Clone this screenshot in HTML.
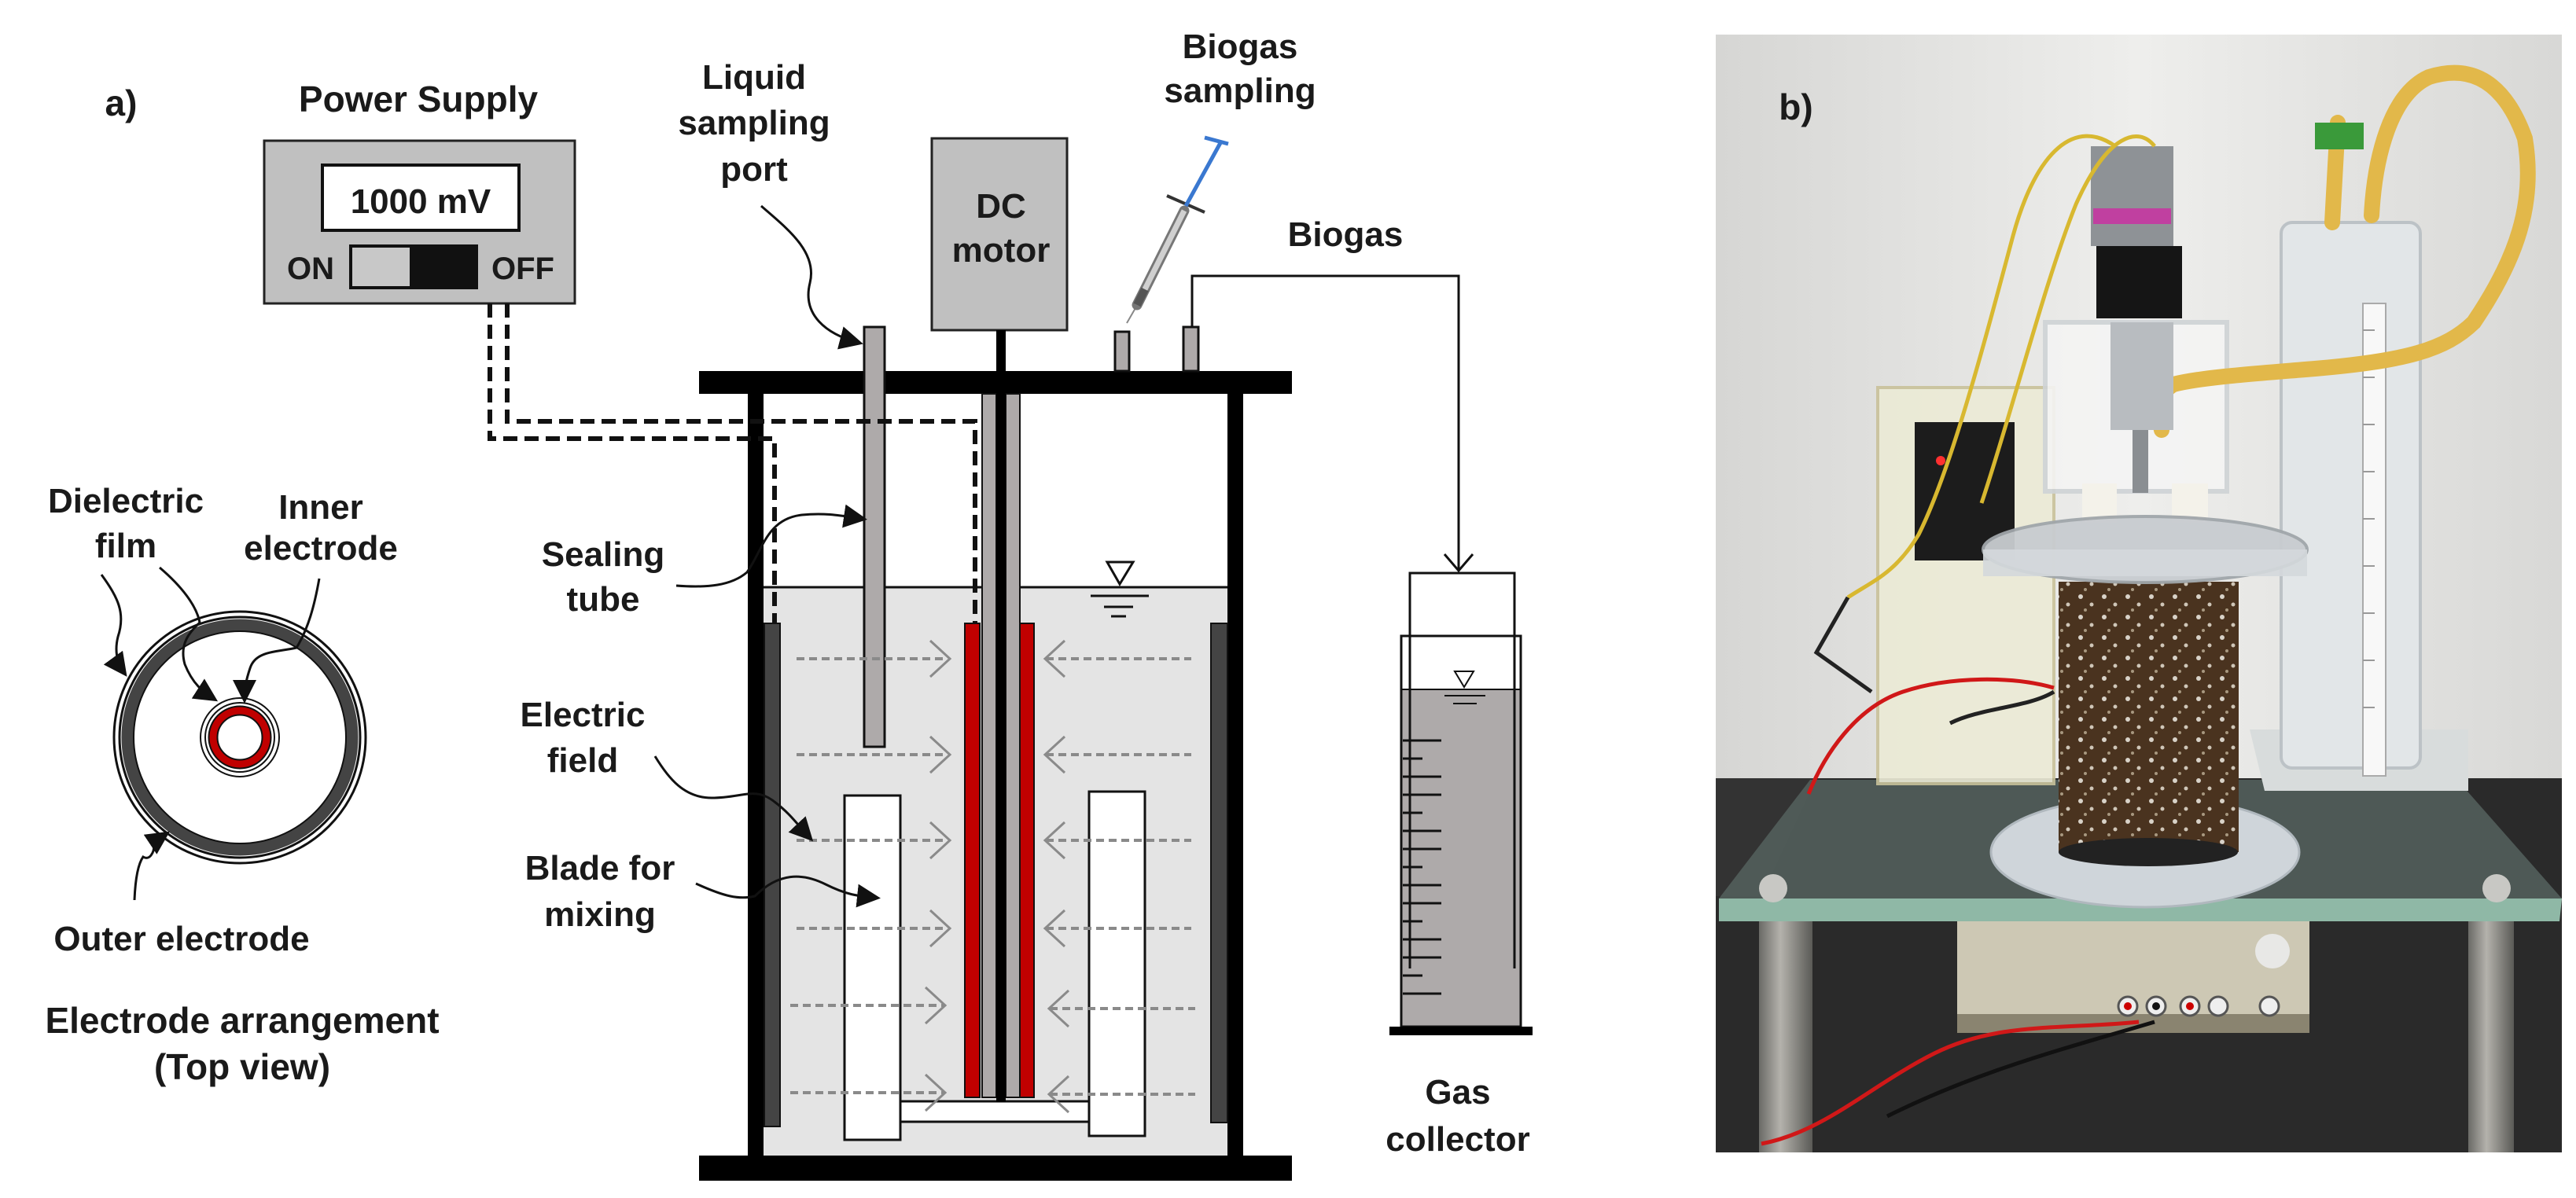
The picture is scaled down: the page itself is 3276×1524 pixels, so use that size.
<!DOCTYPE html>
<html><head><meta charset="utf-8"><style>
html,body{margin:0;padding:0;background:#fff}
svg{display:block}
text{font-family:"Liberation Sans",sans-serif;font-weight:bold;fill:#1a1a1a;text-anchor:middle}
</style></head><body>
<svg width="3276" height="1524" viewBox="0 0 3276 1524" xmlns="http://www.w3.org/2000/svg">
<defs>
<marker id="ah" markerWidth="10" markerHeight="10" refX="8" refY="5" orient="auto" markerUnits="strokeWidth">
<path d="M0,0 L10,5 L0,10 z" fill="#111"/></marker>
<linearGradient id="wall" x1="0" y1="0" x2="1" y2="0"><stop offset="0" stop-color="#d6d6d4"/><stop offset="0.5" stop-color="#eeeeec"/><stop offset="1" stop-color="#d8d8d6"/></linearGradient>
<linearGradient id="leg" x1="0" y1="0" x2="1" y2="0"><stop offset="0" stop-color="#6a6a66"/><stop offset="0.4" stop-color="#b4b2ac"/><stop offset="1" stop-color="#5a5a56"/></linearGradient>
<pattern id="bub" width="30" height="26" patternUnits="userSpaceOnUse"><rect width="30" height="26" fill="#4a331f"/><circle cx="6" cy="5" r="3" fill="#d8d2c8"/><circle cx="20" cy="15" r="2.5" fill="#cfc6b8"/><circle cx="12" cy="22" r="2" fill="#a89880"/></pattern>
</defs>

<!-- ===== Left: electrode top view ===== -->
<circle cx="305" cy="938" r="160" fill="#fff" stroke="#111" stroke-width="3"/>
<circle cx="305" cy="938" r="153" fill="none" stroke="#111" stroke-width="3"/>
<circle cx="305" cy="938" r="143" fill="none" stroke="#444" stroke-width="15"/>
<circle cx="305" cy="938" r="135" fill="#fff" stroke="#111" stroke-width="2"/>
<circle cx="305" cy="938" r="50" fill="#fff" stroke="#111" stroke-width="2"/>
<circle cx="305" cy="938" r="44" fill="#fff" stroke="#111" stroke-width="2"/>
<circle cx="305" cy="938" r="34" fill="none" stroke="#111" stroke-width="13"/>
<circle cx="305" cy="938" r="34" fill="none" stroke="#c00000" stroke-width="9"/>
<g fill="none" stroke="#111" stroke-width="3">
<path d="M129,731 C150,760 160,780 150,810 C145,830 150,845 158,856" marker-end="url(#ah)"/>
<path d="M203,722 C230,745 250,770 254,792 C240,805 228,820 235,845 C245,870 258,880 272,889" marker-end="url(#ah)"/>
<path d="M406,736 C400,770 392,800 377,824 C350,830 325,828 318,850 C313,865 311,875 311,889" marker-end="url(#ah)"/>
<path d="M171,1145 C172,1120 175,1100 182,1090 C190,1095 196,1085 196,1075 C200,1068 205,1065 211,1061" marker-end="url(#ah)"/>
</g>
<text x="160" y="652" font-size="44">Dielectric</text>
<text x="160" y="709" font-size="44">film</text>
<text x="408" y="660" font-size="44">Inner</text>
<text x="408" y="712" font-size="44">electrode</text>
<text x="231" y="1209" font-size="44">Outer electrode</text>
<text x="308" y="1314" font-size="46">Electrode arrangement</text>
<text x="308" y="1373" font-size="46">(Top view)</text>

<!-- ===== Power supply ===== -->
<text x="154" y="147" font-size="46">a)</text>
<text x="532" y="142" font-size="46">Power Supply</text>
<rect x="336" y="179" width="395" height="207" fill="#c0c0c0" stroke="#222" stroke-width="3"/>
<rect x="410" y="210" width="250" height="83" fill="#fff" stroke="#111" stroke-width="4"/>
<text x="535" y="271" font-size="44">1000 mV</text>
<rect x="446" y="313" width="77" height="53" fill="#c8c8c8" stroke="#111" stroke-width="4"/>
<rect x="523" y="313" width="83" height="53" fill="#111" stroke="#111" stroke-width="4"/>
<text x="395" y="355" font-size="40">ON</text>
<text x="665" y="355" font-size="40">OFF</text>

<!-- ===== Reactor ===== -->
<rect x="971" y="747" width="590" height="723" fill="#e4e4e4"/>
<line x1="971" y1="747" x2="1561" y2="747" stroke="#111" stroke-width="3"/>
<rect x="889" y="472" width="754" height="29" fill="#000"/>
<rect x="889" y="1470" width="754" height="32" fill="#000"/>
<rect x="951" y="501" width="20" height="969" fill="#000"/>
<rect x="1561" y="501" width="20" height="969" fill="#000"/>
<!-- motor -->
<rect x="1185" y="176" width="172" height="244" fill="#c0c0c0" stroke="#222" stroke-width="3"/>
<text x="1273" y="277" font-size="44">DC</text>
<text x="1273" y="333" font-size="44">motor</text>
<!-- ports -->
<rect x="1099" y="416" width="26" height="534" fill="#aeaaaa" stroke="#111" stroke-width="3"/>
<rect x="1418" y="422" width="18" height="50" fill="#aeaaaa" stroke="#111" stroke-width="3"/>
<rect x="1505" y="416" width="19" height="56" fill="#aeaaaa" stroke="#111" stroke-width="3"/>
<!-- outer electrodes -->
<rect x="972" y="793" width="20" height="640" fill="#444" stroke="#111" stroke-width="2"/>
<rect x="1540" y="793" width="21" height="635" fill="#444" stroke="#111" stroke-width="2"/>
<!-- blades -->
<rect x="1074" y="1012" width="71" height="438" fill="#fff" stroke="#111" stroke-width="3"/>
<rect x="1385" y="1007" width="71" height="438" fill="#fff" stroke="#111" stroke-width="3"/>
<rect x="1145" y="1401" width="240" height="26" fill="#fff" stroke="#111" stroke-width="3"/>
<!-- central electrode assembly -->
<rect x="1227" y="793" width="19" height="603" fill="#c00000" stroke="#111" stroke-width="2"/>
<rect x="1297" y="793" width="18" height="603" fill="#c00000" stroke="#111" stroke-width="2"/>
<rect x="1249" y="501" width="18" height="895" fill="#aeaaaa" stroke="#111" stroke-width="2"/>
<rect x="1279" y="501" width="18" height="895" fill="#aeaaaa" stroke="#111" stroke-width="2"/>
<rect x="1267" y="420" width="12" height="982" fill="#000"/>
<!-- water level -->
<polygon points="1408,715 1441,715 1424,743" fill="#fff" stroke="#111" stroke-width="3"/>
<g stroke="#111" stroke-width="3"><line x1="1387" y1="758" x2="1461" y2="758"/><line x1="1404" y1="772" x2="1441" y2="772"/><line x1="1413" y1="784" x2="1432" y2="784"/></g>
<!-- field arrows -->
<g fill="none" stroke="#8a8a8a" stroke-width="4">
<g stroke-dasharray="10 6">
<line x1="1013" y1="838" x2="1205" y2="838"/><line x1="1330" y1="838" x2="1515" y2="838"/>
<line x1="1013" y1="960" x2="1205" y2="960"/><line x1="1330" y1="960" x2="1515" y2="960"/>
<line x1="1013" y1="1069" x2="1205" y2="1069"/><line x1="1330" y1="1069" x2="1515" y2="1069"/>
<line x1="1013" y1="1181" x2="1205" y2="1181"/><line x1="1330" y1="1181" x2="1515" y2="1181"/>
<line x1="1005" y1="1279" x2="1200" y2="1279"/><line x1="1335" y1="1283" x2="1520" y2="1283"/>
<line x1="1005" y1="1390" x2="1200" y2="1390"/><line x1="1335" y1="1392" x2="1520" y2="1392"/>
</g>
<g stroke-width="3">
<path d="M1183,815 L1208,838 L1183,861"/><path d="M1354,815 L1329,838 L1354,861"/>
<path d="M1183,937 L1208,960 L1183,983"/><path d="M1354,937 L1329,960 L1354,983"/>
<path d="M1183,1046 L1208,1069 L1183,1092"/><path d="M1354,1046 L1329,1069 L1354,1092"/>
<path d="M1183,1158 L1208,1181 L1183,1204"/><path d="M1354,1158 L1329,1181 L1354,1204"/>
<path d="M1177,1256 L1202,1279 L1177,1302"/><path d="M1359,1260 L1334,1283 L1359,1306"/>
<path d="M1177,1367 L1202,1390 L1177,1413"/><path d="M1359,1369 L1334,1392 L1359,1415"/>
</g></g>
<!-- dashed wires -->
<g fill="none" stroke="#111" stroke-width="6" stroke-dasharray="18 9">
<path d="M645,386 L645,536 L1240,536 L1240,793"/>
<path d="M623,386 L623,558 L985,558 L985,793"/>
</g>
<!-- label arrows -->
<g fill="none" stroke="#111" stroke-width="3">
<path d="M968,262 C1000,290 1040,320 1030,360 C1020,400 1050,425 1092,436" marker-end="url(#ah)"/>
<path d="M860,745 C900,748 930,745 950,728 C970,700 975,660 1020,655 C1050,652 1070,656 1097,660" marker-end="url(#ah)"/>
<path d="M833,962 C850,990 870,1015 905,1015 C945,1015 960,1000 985,1020 C1005,1035 1015,1050 1030,1066" marker-end="url(#ah)"/>
<path d="M885,1124 C920,1140 940,1145 960,1140 C990,1110 1020,1110 1050,1125 C1080,1140 1095,1140 1114,1142" marker-end="url(#ah)"/>
</g>
<text x="959" y="113" font-size="44">Liquid</text>
<text x="959" y="171" font-size="44">sampling</text>
<text x="959" y="230" font-size="44">port</text>
<text x="767" y="720" font-size="44">Sealing</text>
<text x="767" y="777" font-size="44">tube</text>
<text x="741" y="924" font-size="44">Electric</text>
<text x="741" y="982" font-size="44">field</text>
<text x="763" y="1119" font-size="44">Blade for</text>
<text x="763" y="1178" font-size="44">mixing</text>
<!-- syringe -->
<line x1="1433" y1="411" x2="1448" y2="385" stroke="#888" stroke-width="2"/>
<line x1="1446" y1="388" x2="1506" y2="268" stroke="#777" stroke-width="13" stroke-linecap="round"/>
<line x1="1446" y1="388" x2="1506" y2="268" stroke="#d0d0d0" stroke-width="7"/>
<line x1="1446" y1="388" x2="1456" y2="368" stroke="#555" stroke-width="10"/>
<line x1="1484" y1="249" x2="1532" y2="270" stroke="#333" stroke-width="4"/>
<line x1="1508" y1="262" x2="1553" y2="180" stroke="#3a78d0" stroke-width="5"/>
<line x1="1532" y1="175" x2="1562" y2="183" stroke="#3a78d0" stroke-width="5"/>
<text x="1577" y="74" font-size="44">Biogas</text>
<text x="1577" y="130" font-size="44">sampling</text>
<!-- biogas line -->
<path d="M1516,416 L1516,351 L1855,351 L1855,726" fill="none" stroke="#111" stroke-width="3"/>
<path d="M1837,705 L1855,726 L1873,705" fill="none" stroke="#111" stroke-width="3"/>
<text x="1711" y="313" font-size="44">Biogas</text>
<!-- gas collector -->
<rect x="1782" y="877" width="152" height="429" fill="#aeaaaa"/>
<rect x="1782" y="809" width="152" height="497" fill="none" stroke="#111" stroke-width="3"/>
<path d="M1793,1232 L1793,729 L1926,729 L1926,1232" fill="none" stroke="#111" stroke-width="3"/>
<line x1="1782" y1="877" x2="1934" y2="877" stroke="#111" stroke-width="2"/>
<rect x="1767" y="1306" width="182" height="11" fill="#000"/>
<polygon points="1850,854 1874,854 1862,874" fill="#fff" stroke="#111" stroke-width="2"/>
<g stroke="#111" stroke-width="2"><line x1="1837" y1="885" x2="1889" y2="885"/><line x1="1848" y1="895" x2="1878" y2="895"/></g>
<g stroke="#111" stroke-width="3">
<line x1="1784" y1="942" x2="1833" y2="942"/><line x1="1784" y1="965" x2="1809" y2="965"/>
<line x1="1784" y1="988" x2="1833" y2="988"/><line x1="1784" y1="1011" x2="1833" y2="1011"/>
<line x1="1784" y1="1034" x2="1809" y2="1034"/><line x1="1784" y1="1057" x2="1833" y2="1057"/>
<line x1="1784" y1="1080" x2="1833" y2="1080"/><line x1="1784" y1="1103" x2="1809" y2="1103"/>
<line x1="1784" y1="1126" x2="1833" y2="1126"/><line x1="1784" y1="1149" x2="1833" y2="1149"/>
<line x1="1784" y1="1172" x2="1809" y2="1172"/><line x1="1784" y1="1195" x2="1833" y2="1195"/>
<line x1="1784" y1="1218" x2="1833" y2="1218"/><line x1="1784" y1="1241" x2="1809" y2="1241"/>
<line x1="1784" y1="1264" x2="1833" y2="1264"/>
</g>
<text x="1854" y="1404" font-size="44">Gas</text>
<text x="1854" y="1464" font-size="44">collector</text>

<!-- ===== Photo b) ===== -->
<g>
<rect x="2182" y="44" width="1076" height="1422" fill="url(#wall)"/>
<rect x="2182" y="990" width="1076" height="476" fill="#2a2a2a"/>
<polygon points="2182,990 2310,990 2240,1140 2182,1140" fill="#333"/>
<!-- legs -->
<rect x="2237" y="1160" width="68" height="306" fill="url(#leg)"/>
<rect x="3139" y="1160" width="58" height="306" fill="url(#leg)"/>
<!-- power supply unit under -->
<rect x="2489" y="1168" width="448" height="146" fill="#cdc8b4"/>
<rect x="2489" y="1290" width="448" height="24" fill="#8a8470"/>
<g fill="#eee" stroke="#555" stroke-width="3">
<circle cx="2706" cy="1280" r="12"/><circle cx="2742" cy="1280" r="12"/><circle cx="2785" cy="1280" r="12"/><circle cx="2821" cy="1280" r="12"/><circle cx="2886" cy="1280" r="12"/></g>
<circle cx="2706" cy="1280" r="5" fill="#c00"/><circle cx="2785" cy="1280" r="5" fill="#c00"/><circle cx="2742" cy="1280" r="5" fill="#111"/>
<circle cx="2890" cy="1210" r="22" fill="#e8e8e6"/>
<!-- glass plate -->
<polygon points="2302,992 3125,992 3258,1143 2186,1143" fill="#55625e" opacity="0.85"/>
<polygon points="2186,1143 3258,1143 3255,1172 2186,1172" fill="#8fb8a6"/>
<circle cx="2255" cy="1130" r="18" fill="#c8c8c4"/><circle cx="3175" cy="1130" r="18" fill="#c8c8c4"/>
<!-- right stand plate & cylinder -->
<polygon points="2861,928 3139,928 3139,1006 2880,1006" fill="#d8dcdc"/>
<rect x="2901" y="283" width="177" height="694" rx="14" fill="#e2e6e8" stroke="#bcc2c6" stroke-width="4"/>
<rect x="3005" y="386" width="29" height="601" fill="#f8f8f8" stroke="#aaa" stroke-width="2"/>
<g stroke="#999" stroke-width="2"><line x1="3005" y1="420" x2="3020" y2="420"/><line x1="3005" y1="480" x2="3020" y2="480"/><line x1="3005" y1="540" x2="3020" y2="540"/><line x1="3005" y1="600" x2="3020" y2="600"/><line x1="3005" y1="660" x2="3020" y2="660"/><line x1="3005" y1="720" x2="3020" y2="720"/><line x1="3005" y1="780" x2="3020" y2="780"/><line x1="3005" y1="840" x2="3020" y2="840"/><line x1="3005" y1="900" x2="3020" y2="900"/></g>
<!-- controller box -->
<rect x="2388" y="493" width="224" height="504" fill="#ecebd6" stroke="#c9c29a" stroke-width="4" opacity="0.9"/>
<rect x="2435" y="537" width="127" height="176" fill="#1c1c1c"/>
<circle cx="2468" cy="586" r="6" fill="#ff3030"/>
<!-- acrylic frame -->
<rect x="2601" y="410" width="231" height="215" fill="#f4f4f4" stroke="#cfd3d6" stroke-width="6" opacity="0.9"/>
<!-- yellow tubes -->
<g fill="none" stroke="#e2b84a" stroke-width="20" stroke-linecap="round">
<path d="M2966,283 L2973,156"/>
<path d="M3016,274 C3020,200 3040,120 3089,98 C3130,85 3180,90 3211,176 C3225,260 3200,330 3146,410 C3110,445 3060,459 2944,469 C2860,476 2800,480 2764,489 C2745,500 2742,520 2749,547"/>
</g>
<rect x="2944" y="156" width="62" height="34" fill="#3a9a3a"/>
<!-- motor -->
<rect x="2659" y="186" width="105" height="127" fill="#8e9296"/>
<rect x="2662" y="265" width="99" height="20" fill="#c040a0"/>
<rect x="2666" y="313" width="109" height="92" fill="#151515"/>
<rect x="2684" y="410" width="80" height="137" fill="#b8bcc0"/>
<rect x="2712" y="547" width="20" height="80" fill="#8a8e92"/>
<!-- caps -->
<rect x="2648" y="615" width="44" height="50" fill="#f4f2ea"/>
<rect x="2762" y="615" width="46" height="50" fill="#f4f2ea"/>
<!-- base disc -->
<ellipse cx="2728" cy="1084" rx="196" ry="70" fill="#cfd5da" stroke="#b0b8be" stroke-width="3"/>
<!-- jar -->
<rect x="2618" y="740" width="229" height="344" fill="url(#bub)"/>
<ellipse cx="2732" cy="1084" rx="114" ry="18" fill="#222"/>
<!-- flange -->
<ellipse cx="2728" cy="699" rx="206" ry="42" fill="#c8ccd0" stroke="#a0a6aa" stroke-width="4" opacity="0.95"/>
<rect x="2522" y="699" width="412" height="34" fill="#d4d8dc" opacity="0.9"/>
<!-- wires -->
<g fill="none" stroke-width="5">
<path d="M2690,186 C2640,150 2590,190 2560,300 C2520,450 2480,600 2440,680 C2410,730 2380,740 2350,760" stroke="#d8b830"/>
<path d="M2740,186 C2720,160 2680,170 2640,260 C2600,360 2560,520 2520,640" stroke="#d8b830"/>
<path d="M2350,760 L2310,830 L2380,880" stroke="#222"/>
<path d="M2612,875 C2560,860 2480,860 2420,880 C2360,900 2320,960 2300,1010" stroke="#d01818"/>
<path d="M2612,880 C2580,900 2520,900 2480,920" stroke="#222"/>
<path d="M2720,1300 C2620,1310 2540,1300 2460,1340 C2380,1380 2320,1440 2240,1455" stroke="#d01818"/>
<path d="M2740,1300 C2640,1330 2520,1360 2400,1420" stroke="#111"/>
</g>
<text x="2284" y="152" font-size="46">b)</text>
</g>
</svg>
</body></html>
